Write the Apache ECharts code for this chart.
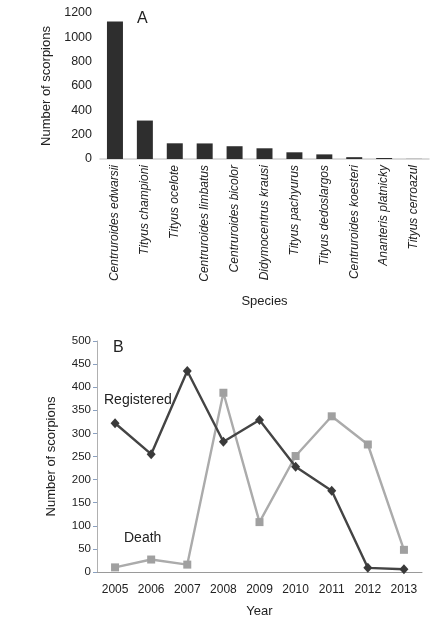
<!DOCTYPE html>
<html>
<head>
<meta charset="utf-8">
<script src="https://cdn.jsdelivr.net/npm/echarts@6/dist/echarts.min.js"></script>
<style>
html,body{margin:0;padding:0;background:#fff;}
#c{width:445px;height:621px;}
</style>
</head>
<body>
<div id="c"></div>
<script>
var species = ["Centruroides edwarsii","Tityus championi","Tityus ocelote","Centruroides limbatus","Centruroides bicolor","Didymocentrus krausi","Tityus pachyurus","Tityus dedoslargos","Centruroides koesteri","Ananteris platnicky","Tityus cerroazul"];
var speciesCounts = [1130, 316, 129, 128, 105, 88, 55, 38, 15, 8, 1];
var years = ["2005","2006","2007","2008","2009","2010","2011","2012","2013"];
var registered = [322, 255, 435, 282, 329, 228, 176, 9, 6];
var death = [10, 27, 16, 388, 108, 251, 337, 276, 48];
var yTicksA = [0, 1200, 200];
var yTicksB = [0, 500, 50];

var FONT = "Liberation Sans";
var TXT = "#222";
var chart = echarts.init(document.getElementById('c'), null, {renderer:'canvas'});
chart.setOption({
  animation:false,
  backgroundColor:'#fff',
  textStyle:{fontFamily:FONT},
  grid:[
    {left:100, top:13, width:329, bottom:462},
    {left:97, top:341, right:23, bottom:49}
  ],
  xAxis:[
    {gridIndex:0, type:'category', data:species, boundaryGap:true,
     axisLine:{lineStyle:{color:'#cfcfcf', width:1.5}}, axisTick:{show:false},
     axisLabel:{rotate:90, margin:6, fontSize:12, fontStyle:'italic', color:TXT, fontFamily:FONT, interval:0},
     name:'Species', nameLocation:'middle', nameGap:136, nameTextStyle:{fontSize:13, color:TXT, fontFamily:FONT}},
    {gridIndex:1, type:'category', data:years, boundaryGap:true,
     axisLine:{lineStyle:{color:'#9a9a9a', width:1}}, axisTick:{show:false},
     axisLabel:{margin:12, fontSize:12, color:TXT, fontFamily:FONT},
     name:'Year', nameLocation:'middle', nameGap:33, nameTextStyle:{fontSize:13, color:TXT, fontFamily:FONT}}
  ],
  yAxis:[
    {gridIndex:0, type:'value', min:yTicksA[0], max:yTicksA[1], interval:yTicksA[2],
     axisLine:{show:false}, axisTick:{show:false}, splitLine:{show:false},
     axisLabel:{margin:8, fontSize:12.5, color:TXT, fontFamily:FONT, formatter:function(v){return String(v);}},
     name:'Number of scorpions', nameLocation:'middle', nameGap:34, nameTextStyle:{fontSize:13, color:TXT, fontFamily:FONT}},
    {gridIndex:1, type:'value', min:yTicksB[0], max:yTicksB[1], interval:yTicksB[2],
     axisLine:{show:true, lineStyle:{color:'#b0b0b0', width:1}},
     axisTick:{show:true, inside:false, length:4, lineStyle:{color:'#8aa0c0'}}, splitLine:{show:false},
     axisLabel:{margin:6, fontSize:11.5, color:TXT, fontFamily:FONT},
     name:'Number of scorpions', nameLocation:'middle', nameGap:39, nameTextStyle:{fontSize:13, color:TXT, fontFamily:FONT}}
  ],
  series:[
    {type:'bar', xAxisIndex:0, yAxisIndex:0, data:speciesCounts, barWidth:16,
     itemStyle:{color:'#2e2e2e'}},
    {type:'line', name:'Death', xAxisIndex:1, yAxisIndex:1, data:death,
     symbol:'rect', symbolSize:8, lineStyle:{color:'#ababab', width:2.4},
     itemStyle:{color:'#a0a0a0'}, z:2},
    {type:'line', name:'Registered', xAxisIndex:1, yAxisIndex:1, data:registered,
     symbol:'diamond', symbolSize:[9,10], lineStyle:{color:'#444', width:2.4},
     itemStyle:{color:'#3a3a3a'}, z:3}
  ],
  graphic:[
    {type:'text', left:137, top:11, style:{text:'A', fontSize:16, fill:'#222', fontFamily:FONT}},
    {type:'text', left:113, top:340, style:{text:'B', fontSize:16, fill:'#222', fontFamily:FONT}},
    {type:'text', left:104, top:393, style:{text:'Registered', fontSize:14, fill:'#222', fontFamily:FONT}},
    {type:'text', left:124, top:531, style:{text:'Death', fontSize:14, fill:'#222', fontFamily:FONT}}
  ]
});
</script>
</body>
</html>
